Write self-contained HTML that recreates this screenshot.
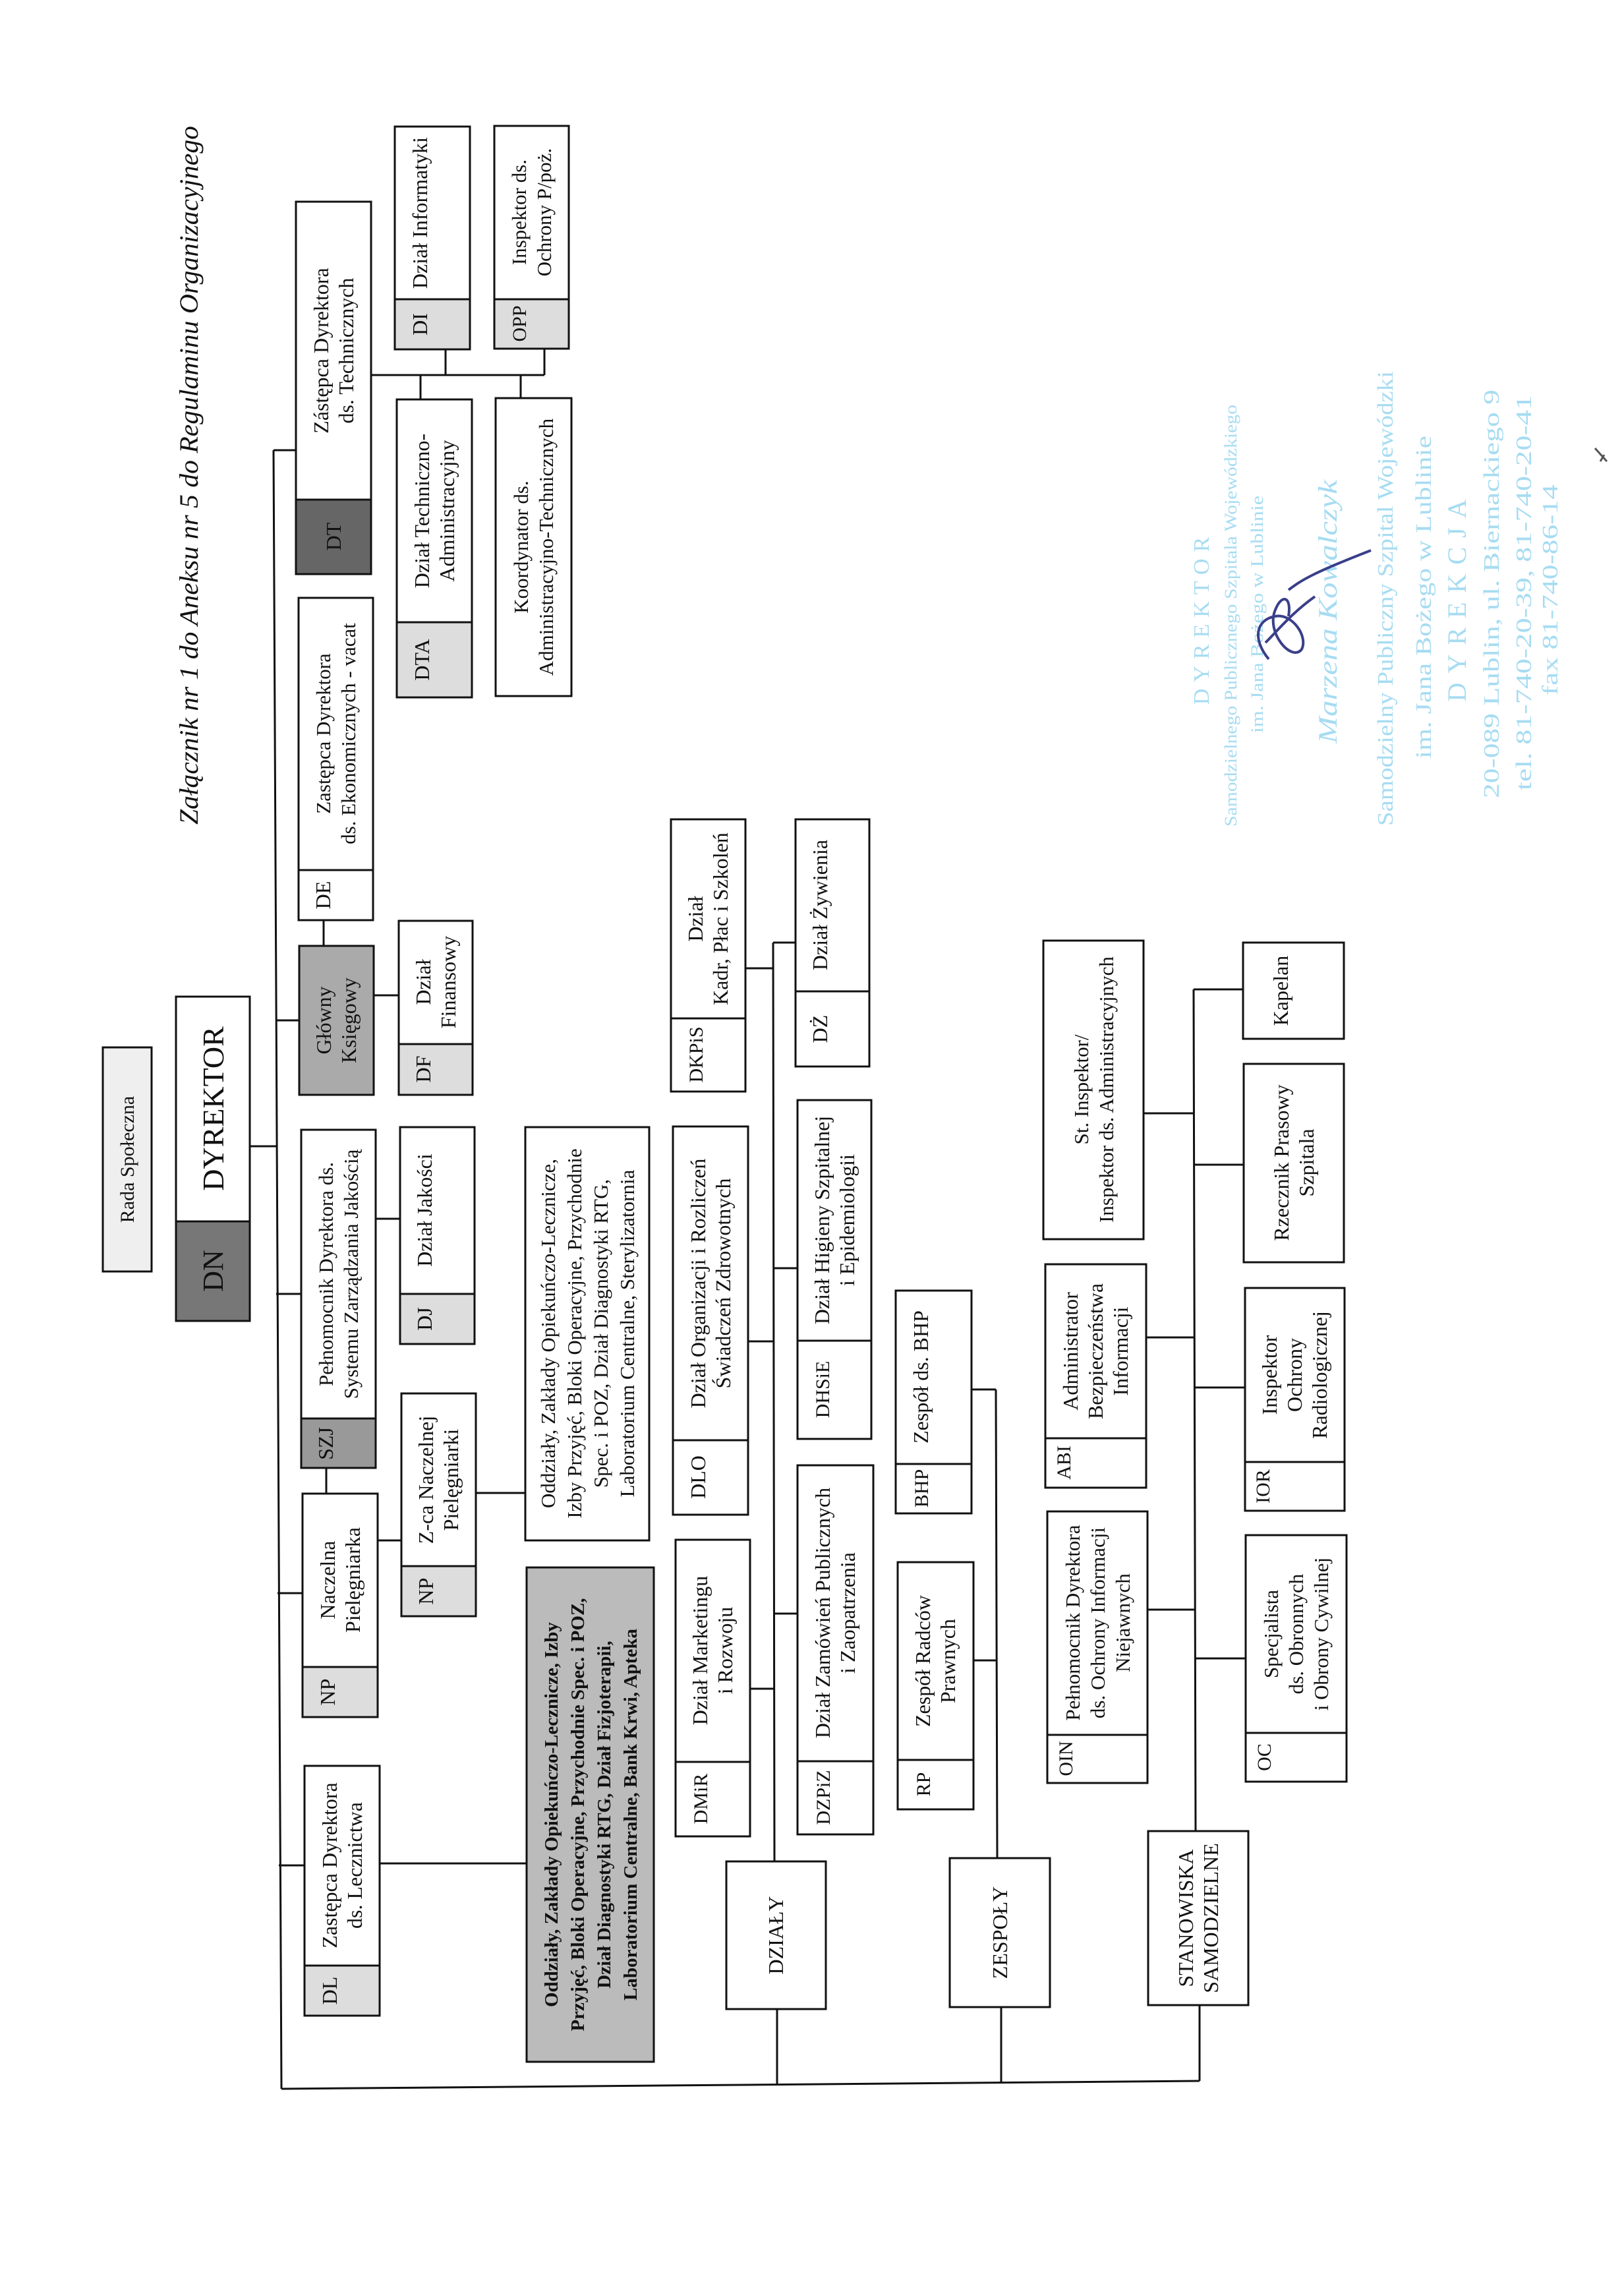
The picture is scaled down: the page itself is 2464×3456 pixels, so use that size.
<!DOCTYPE html>
<html><head><meta charset="utf-8"><style>
html,body{margin:0;padding:0;background:#fff;}
svg{display:block;}
text{font-family:"Liberation Serif",serif;fill:#111;text-anchor:middle;}
.b{fill:#fff;stroke:#111;stroke-width:3;}
.l{stroke:#111;stroke-width:3;fill:none;}
.s{font-family:"Liberation Serif",serif;fill:#a6dcf2;}
</style></head><body>
<svg width="2464" height="3456" viewBox="0 0 2464 3456" xmlns="http://www.w3.org/2000/svg">
<rect width="2464" height="3456" fill="#fff"/>

<!-- title -->
<text transform="translate(287 721) rotate(-90)" font-size="40" font-style="italic" y="13" textLength="1060" lengthAdjust="spacingAndGlyphs">Załącznik nr 1 do Aneksu nr 5 do Regulaminu Organizacyjnego</text>

<!-- connectors -->
<g class="l">
<line x1="415" y1="683" x2="427" y2="3169"/>
<line x1="415" y1="683" x2="449" y2="683"/>
<line x1="418" y1="1548" x2="454" y2="1548"/>
<line x1="379" y1="1739" x2="419" y2="1739"/>
<line x1="419" y1="1963" x2="457" y2="1963"/>
<line x1="421" y1="2417" x2="459" y2="2417"/>
<line x1="423" y1="2830" x2="462" y2="2830"/>
<line x1="427" y1="3169" x2="1820" y2="3157"/>
<line x1="1179" y1="3048" x2="1179" y2="3164"/>
<line x1="1519" y1="3045" x2="1519" y2="3160"/>
<line x1="1820" y1="3042" x2="1820" y2="3157"/>
<!-- DT branch -->
<line x1="563" y1="569" x2="826" y2="569"/>
<line x1="676" y1="530" x2="676" y2="569"/>
<line x1="638" y1="569" x2="638" y2="606"/>
<line x1="790" y1="569" x2="790" y2="604"/>
<line x1="826" y1="529" x2="826" y2="569"/>
<line x1="491" y1="1396" x2="491" y2="1435"/>
<line x1="567" y1="1510" x2="605" y2="1510"/>
<line x1="570" y1="1849" x2="607" y2="1849"/>
<line x1="495" y1="2227" x2="495" y2="2266"/>
<line x1="573" y1="2337" x2="609" y2="2337"/>
<line x1="722" y1="2265" x2="797" y2="2265"/>
<line x1="576" y1="2827" x2="799" y2="2827"/>
<!-- departments -->
<line x1="1173" y1="1430" x2="1175" y2="2824"/>
<line x1="1173" y1="1430" x2="1207" y2="1430"/>
<line x1="1131" y1="1469" x2="1173" y2="1469"/>
<line x1="1135" y1="2035" x2="1174" y2="2035"/>
<line x1="1173" y1="1924" x2="1210" y2="1924"/>
<line x1="1138" y1="2562" x2="1174" y2="2562"/>
<line x1="1174" y1="2448" x2="1210" y2="2448"/>
<!-- teams -->
<line x1="1511" y1="2108" x2="1513" y2="2819"/>
<line x1="1474" y1="2108" x2="1511" y2="2108"/>
<line x1="1477" y1="2519" x2="1512" y2="2519"/>
<!-- stanowiska -->
<line x1="1811" y1="1501" x2="1814" y2="2778"/>
<line x1="1811" y1="1501" x2="1886" y2="1501"/>
<line x1="1734" y1="1689" x2="1811" y2="1689"/>
<line x1="1811" y1="1767" x2="1887" y2="1767"/>
<line x1="1739" y1="2029" x2="1812" y2="2029"/>
<line x1="1812" y1="2105" x2="1889" y2="2105"/>
<line x1="1741" y1="2442" x2="1813" y2="2442"/>
<line x1="1813" y1="2516" x2="1890" y2="2516"/>
</g>

<!-- boxes -->
<g>
<rect class="b" x="156" y="1589" width="74" height="340" style="fill:#efefef"/>
<text transform="translate(193 1759) rotate(-90)" font-size="30" y="10">Rada Społeczna</text>

<rect class="b" x="267" y="1512" width="112" height="492"/>
<rect class="b" x="267" y="1853" width="112" height="151" style="fill:#777"/>
<text transform="translate(323 1682) rotate(-90)" font-size="46" y="16">DYREKTOR</text>
<text transform="translate(323 1928) rotate(-90)" font-size="44" y="15">DN</text>

<rect class="b" x="462" y="2679" width="114" height="379"/>
<rect class="b" x="462" y="2982" width="114" height="76" style="fill:#ddd"/>
<text transform="translate(519 2830) rotate(-90)" font-size="32"><tspan x="0" y="-8">Zastępca Dyrektora</tspan><tspan x="0" y="30">ds. Lecznictwa</tspan></text>
<text transform="translate(519 3020) rotate(-90)" font-size="32" y="-8">DL</text>

<rect class="b" x="459" y="2266" width="114" height="339"/>
<rect class="b" x="459" y="2529" width="114" height="76" style="fill:#ddd"/>
<text transform="translate(516 2397) rotate(-90)" font-size="32"><tspan x="0" y="-8">Naczelna</tspan><tspan x="0" y="30">Pielęgniarka</tspan></text>
<text transform="translate(516 2567) rotate(-90)" font-size="32" y="-8">NP</text>

<rect class="b" x="457" y="1714" width="113" height="513"/>
<rect class="b" x="457" y="2152" width="113" height="75" style="fill:#999"/>
<text transform="translate(513 1933) rotate(-90)" font-size="31"><tspan x="0" y="-8">Pełnomocnik Dyrektora ds.</tspan><tspan x="0" y="30">Systemu Zarządzania Jakością</tspan></text>
<text transform="translate(513 2190) rotate(-90)" font-size="32" y="-8">SZJ</text>

<rect class="b" x="454" y="1435" width="113" height="226" style="fill:#aaa"/>
<text transform="translate(510 1548) rotate(-90)" font-size="32"><tspan x="0" y="-8">Główny</tspan><tspan x="0" y="30">Księgowy</tspan></text>

<rect class="b" x="453" y="907" width="113" height="489"/>
<rect class="b" x="453" y="1320" width="113" height="76"/>
<text transform="translate(509 1113) rotate(-90)" font-size="31"><tspan x="0" y="-8">Zastępca Dyrektora</tspan><tspan x="0" y="30">ds. Ekonomicznych - vacat</tspan></text>
<text transform="translate(509 1358) rotate(-90)" font-size="32" y="-8">DE</text>

<rect class="b" x="449" y="306" width="114" height="565"/>
<rect class="b" x="449" y="758" width="114" height="113" style="fill:#666"/>
<text transform="translate(506 532) rotate(-90)" font-size="32"><tspan x="0" y="-8">Zástępca Dyrektora</tspan><tspan x="0" y="30">ds. Technicznych</tspan></text>
<text transform="translate(506 814) rotate(-90)" font-size="32" y="11">DT</text>

<rect class="b" x="599" y="192" width="114" height="338"/>
<rect class="b" x="599" y="454" width="114" height="76" style="fill:#ddd"/>
<text transform="translate(656 323) rotate(-90)" font-size="32" y="-8">Dział Informatyki</text>
<text transform="translate(656 492) rotate(-90)" font-size="32" y="-8">DI</text>

<rect class="b" x="750" y="191" width="113" height="338"/>
<rect class="b" x="750" y="454" width="113" height="75" style="fill:#ddd"/>
<text transform="translate(806 322) rotate(-90)" font-size="31"><tspan x="0" y="-8">Inspektor ds.</tspan><tspan x="0" y="30">Ochrony P/poż.</tspan></text>
<text transform="translate(806 491) rotate(-90)" font-size="30" y="-8">OPP</text>

<rect class="b" x="602" y="606" width="114" height="452"/>
<rect class="b" x="602" y="944" width="114" height="114" style="fill:#ddd"/>
<text transform="translate(659 775) rotate(-90)" font-size="32"><tspan x="0" y="-8">Dział Techniczno-</tspan><tspan x="0" y="30">Administracyjny</tspan></text>
<text transform="translate(659 1001) rotate(-90)" font-size="32" y="-8">DTA</text>

<rect class="b" x="752" y="604" width="115" height="452"/>
<text transform="translate(809 830) rotate(-90)" font-size="31"><tspan x="0" y="-8">Koordynator ds.</tspan><tspan x="0" y="30">Administracyjno-Technicznych</tspan></text>

<rect class="b" x="605" y="1397" width="112" height="264"/>
<rect class="b" x="605" y="1584" width="112" height="77" style="fill:#ddd"/>
<text transform="translate(661 1490) rotate(-90)" font-size="32"><tspan x="0" y="-8">Dział</tspan><tspan x="0" y="30">Finansowy</tspan></text>
<text transform="translate(661 1622) rotate(-90)" font-size="32" y="-8">DF</text>

<rect class="b" x="607" y="1710" width="113" height="329"/>
<rect class="b" x="607" y="1963" width="113" height="76" style="fill:#ddd"/>
<text transform="translate(663 1836) rotate(-90)" font-size="32" y="-8">Dział Jakości</text>
<text transform="translate(663 2001) rotate(-90)" font-size="32" y="-8">DJ</text>

<rect class="b" x="609" y="2114" width="113" height="338"/>
<rect class="b" x="609" y="2376" width="113" height="76" style="fill:#ddd"/>
<text transform="translate(665 2245) rotate(-90)" font-size="32"><tspan x="0" y="-8">Z-ca Naczelnej</tspan><tspan x="0" y="30">Pielęgniarki</tspan></text>
<text transform="translate(665 2414) rotate(-90)" font-size="32" y="-8">NP</text>

<rect class="b" x="797" y="1710" width="188" height="627"/>
<text transform="translate(891 2023) rotate(-90)" font-size="31"><tspan x="0" y="-49">Oddziały, Zakłady Opiekuńczo-Lecznicze,</tspan><tspan x="0" y="-9">Izby Przyjęć, Bloki Operacyjne, Przychodnie</tspan><tspan x="0" y="31">Spec. i POZ, Dział Diagnostyki RTG,</tspan><tspan x="0" y="71">Laboratorium Centralne, Sterylizatornia</tspan></text>

<rect class="b" x="799" y="2378" width="193" height="750" style="fill:#bbb"/>
<text transform="translate(895 2753) rotate(-90)" font-size="29" font-weight="bold"><tspan x="0" y="-49">Oddziały, Zakłady Opiekuńczo-Lecznicze, Izby</tspan><tspan x="0" y="-9">Przyjęć, Bloki Operacyjne, Przychodnie Spec. i POZ,</tspan><tspan x="0" y="31">Dział Diagnostyki RTG, Dział Fizjoterapii,</tspan><tspan x="0" y="71">Laboratorium Centralne, Bank Krwi, Apteka</tspan></text>

<rect class="b" x="1018" y="1243" width="113" height="413"/>
<rect class="b" x="1018" y="1545" width="113" height="111"/>
<text transform="translate(1074 1394) rotate(-90)" font-size="32"><tspan x="0" y="-8">Dział</tspan><tspan x="0" y="30">Kadr, Płac i Szkoleń</tspan></text>
<text transform="translate(1074 1600) rotate(-90)" font-size="30" y="-8">DKPiS</text>

<rect class="b" x="1207" y="1243" width="112" height="375"/>
<rect class="b" x="1207" y="1504" width="112" height="114"/>
<text transform="translate(1263 1373) rotate(-90)" font-size="32" y="-8">Dział Żywienia</text>
<text transform="translate(1263 1561) rotate(-90)" font-size="32" y="-8">DŻ</text>

<rect class="b" x="1021" y="1709" width="114" height="589"/>
<rect class="b" x="1021" y="2185" width="114" height="113"/>
<text transform="translate(1078 1947) rotate(-90)" font-size="32"><tspan x="0" y="-8">Dział Organizacji i Rozliczeń</tspan><tspan x="0" y="30">Świadczeń Zdrowotnych</tspan></text>
<text transform="translate(1078 2241) rotate(-90)" font-size="32" y="-8">DLO</text>

<rect class="b" x="1210" y="1669" width="112" height="514"/>
<rect class="b" x="1210" y="2034" width="112" height="149"/>
<text transform="translate(1266 1851) rotate(-90)" font-size="32"><tspan x="0" y="-8">Dział Higieny Szpitalnej</tspan><tspan x="0" y="30">i Epidemiologii</tspan></text>
<text transform="translate(1266 2108) rotate(-90)" font-size="30" y="-8">DHSiE</text>

<rect class="b" x="1025" y="2336" width="113" height="450"/>
<rect class="b" x="1025" y="2673" width="113" height="113"/>
<text transform="translate(1081 2504) rotate(-90)" font-size="32"><tspan x="0" y="-8">Dział Marketingu</tspan><tspan x="0" y="30">i Rozwoju</tspan></text>
<text transform="translate(1081 2729) rotate(-90)" font-size="30" y="-8">DMiR</text>

<rect class="b" x="1210" y="2223" width="115" height="560"/>
<rect class="b" x="1210" y="2672" width="115" height="111"/>
<text transform="translate(1267 2447) rotate(-90)" font-size="32"><tspan x="0" y="-8">Dział Zamówień Publicznych</tspan><tspan x="0" y="30">i Zaopatrzenia</tspan></text>
<text transform="translate(1267 2727) rotate(-90)" font-size="30" y="-8">DZPiZ</text>

<rect class="b" x="1102" y="2824" width="151" height="224"/>
<text transform="translate(1177 2936) rotate(-90)" font-size="32" y="11">DZIAŁY</text>

<rect class="b" x="1359" y="1958" width="115" height="338"/>
<rect class="b" x="1359" y="2221" width="115" height="75"/>
<text transform="translate(1416 2089) rotate(-90)" font-size="32" y="-8">Zespół ds. BHP</text>
<text transform="translate(1416 2258) rotate(-90)" font-size="30" y="-8">BHP</text>

<rect class="b" x="1362" y="2370" width="115" height="375"/>
<rect class="b" x="1362" y="2670" width="115" height="75"/>
<text transform="translate(1419 2520) rotate(-90)" font-size="32"><tspan x="0" y="-8">Zespół Radców</tspan><tspan x="0" y="30">Prawnych</tspan></text>
<text transform="translate(1419 2707) rotate(-90)" font-size="30" y="-8">RP</text>

<rect class="b" x="1441" y="2819" width="152" height="226"/>
<text transform="translate(1517 2932) rotate(-90)" font-size="32" y="11">ZESPOŁY</text>

<rect class="b" x="1583" y="1427" width="152" height="453"/>
<text transform="translate(1659 1653) rotate(-90)" font-size="31"><tspan x="0" y="-8">St. Inspektor/</tspan><tspan x="0" y="30">Inspektor ds. Administracyjnych</tspan></text>

<rect class="b" x="1586" y="1918" width="153" height="339"/>
<rect class="b" x="1586" y="2182" width="153" height="75"/>
<text transform="translate(1662 2050) rotate(-90)" font-size="32"><tspan x="0" y="-27">Administrator</tspan><tspan x="0" y="11">Bezpieczeństwa</tspan><tspan x="0" y="49">Informacji</tspan></text>
<text transform="translate(1662 2219) rotate(-90)" font-size="30" y="-38">ABI</text>

<rect class="b" x="1589" y="2293" width="152" height="412"/>
<rect class="b" x="1589" y="2632" width="152" height="73"/>
<text transform="translate(1665 2462) rotate(-90)" font-size="31"><tspan x="0" y="-27">Pełnomocnik Dyrektora</tspan><tspan x="0" y="11">ds. Ochrony Informacji</tspan><tspan x="0" y="49">Niejawnych</tspan></text>
<text transform="translate(1665 2668) rotate(-90)" font-size="30" y="-38">OIN</text>

<rect class="b" x="1742" y="2778" width="152" height="264"/>
<text transform="translate(1818 2910) rotate(-90)" font-size="32"><tspan x="0" y="-8">STANOWISKA</tspan><tspan x="0" y="30">SAMODZIELNE</tspan></text>

<rect class="b" x="1886" y="1430" width="153" height="146"/>
<text transform="translate(1962 1503) rotate(-90)" font-size="32" y="-8">Kapelan</text>

<rect class="b" x="1887" y="1614" width="152" height="301"/>
<text transform="translate(1963 1764) rotate(-90)" font-size="32"><tspan x="0" y="-8">Rzecznik Prasowy</tspan><tspan x="0" y="30">Szpitala</tspan></text>

<rect class="b" x="1889" y="1954" width="151" height="338"/>
<rect class="b" x="1889" y="2218" width="151" height="74"/>
<text transform="translate(1964 2086) rotate(-90)" font-size="32"><tspan x="0" y="-27">Inspektor</tspan><tspan x="0" y="11">Ochrony</tspan><tspan x="0" y="49">Radiologicznej</tspan></text>
<text transform="translate(1964 2255) rotate(-90)" font-size="30" y="-38">IOR</text>

<rect class="b" x="1890" y="2329" width="153" height="374"/>
<rect class="b" x="1890" y="2629" width="153" height="74"/>
<text transform="translate(1966 2479) rotate(-90)" font-size="31"><tspan x="0" y="-27">Specjalista</tspan><tspan x="0" y="11">ds. Obronnych</tspan><tspan x="0" y="49">i Obrony Cywilnej</tspan></text>
<text transform="translate(1966 2666) rotate(-90)" font-size="30" y="-38">OC</text>
</g>

<!-- stamp -->
<g class="s" text-anchor="middle">
<text class="s" transform="translate(1822 937) rotate(-90)" font-size="34" y="12" letter-spacing="10">DYREKTOR</text>
<text class="s" transform="translate(1867 934) rotate(-90)" font-size="26" y="9" textLength="640" lengthAdjust="spacingAndGlyphs">Samodzielnego Publicznego Szpitala Wojewódzkiego</text>
<text class="s" transform="translate(1907 932) rotate(-90)" font-size="26" y="9" textLength="360" lengthAdjust="spacingAndGlyphs">im. Jana Bożego w Lublinie</text>
<text class="s" transform="translate(2014 928) rotate(-90)" font-size="40" font-style="italic" y="14" textLength="400" lengthAdjust="spacingAndGlyphs">Marzena Kowalczyk</text>
<text class="s" transform="translate(2101 908) rotate(-90)" font-size="34" y="12" textLength="690" lengthAdjust="spacingAndGlyphs">Samodzielny Publiczny Szpital Wojewódzki</text>
<text class="s" transform="translate(2159 906) rotate(-90)" font-size="34" y="12" textLength="490" lengthAdjust="spacingAndGlyphs">im. Jana Bożego w Lublinie</text>
<text class="s" transform="translate(2210 904) rotate(-90)" font-size="40" y="14" letter-spacing="14">DYREKCJA</text>
<text class="s" transform="translate(2262 901) rotate(-90)" font-size="34" y="12" textLength="620" lengthAdjust="spacingAndGlyphs">20-089 Lublin, ul. Biernackiego 9</text>
<text class="s" transform="translate(2311 899) rotate(-90)" font-size="34" y="12" textLength="600" lengthAdjust="spacingAndGlyphs">tel. 81-740-20-39, 81-740-20-41</text>
<text class="s" transform="translate(2351 895) rotate(-90)" font-size="34" y="12" textLength="320" lengthAdjust="spacingAndGlyphs">fax 81-740-86-14</text>
</g>
<path d="M1925 1000 C1900 970 1905 940 1935 935 C1960 930 1985 965 1975 985 C1960 1005 1920 960 1935 925 C1945 900 1960 905 1955 935 M1920 975 C1940 955 1960 930 1995 905 M1955 895 C1975 880 1990 870 2080 835" stroke="#3a3f8a" stroke-width="4" fill="none"/>
<path d="M2420 680 l18 20 M2428 700 l6 -10" stroke="#555" stroke-width="3"/>
</svg>
</body></html>
